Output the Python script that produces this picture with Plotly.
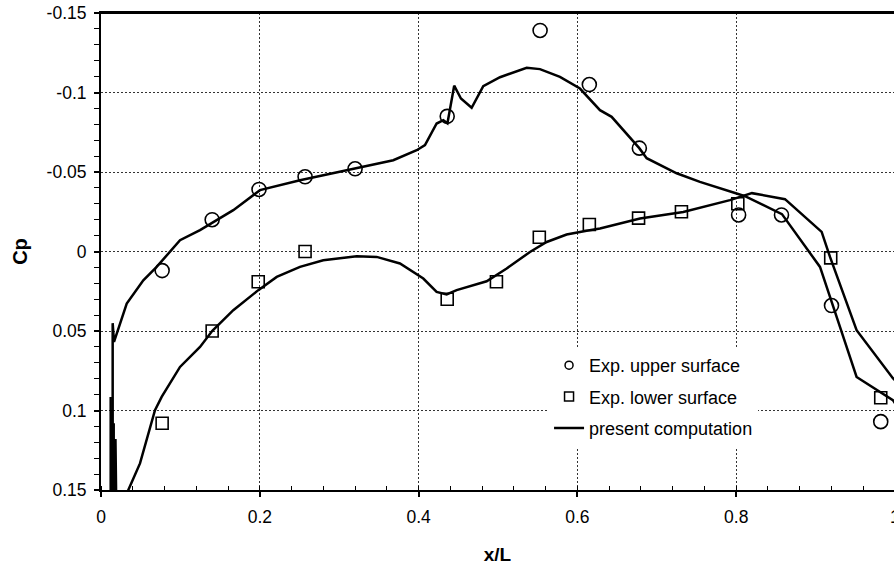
import plotly.graph_objects as go

# ---------------- data ----------------
x_upper_exp = [0.077, 0.140, 0.199, 0.257, 0.320, 0.436, 0.553, 0.615, 0.678, 0.803, 0.857, 0.920, 0.982]
cp_upper_exp = [0.012, -0.020, -0.039, -0.047, -0.052, -0.085, -0.139, -0.105, -0.065, -0.023, -0.023, 0.034, 0.107]

x_lower_exp = [0.077, 0.140, 0.198, 0.257, 0.436, 0.498, 0.552, 0.615, 0.677, 0.731, 0.802, 0.919, 0.982]
cp_lower_exp = [0.108, 0.050, 0.019, 0.000, 0.030, 0.019, -0.009, -0.017, -0.021, -0.025, -0.030, 0.004, 0.092]

x_upper_cmp = [0.0147, 0.0147, 0.0164, 0.0324, 0.0533, 0.0701, 0.0995, 0.1247, 0.1666, 0.2002,
               0.2506, 0.3177, 0.3681, 0.3976, 0.4080, 0.4227, 0.4311, 0.4363, 0.4448, 0.4533,
               0.4668, 0.4814, 0.5025, 0.5361, 0.5528, 0.5780, 0.6032, 0.6284, 0.6431, 0.6779,
               0.6872, 0.7250, 0.7543, 0.8005, 0.8110, 0.8576, 0.9055, 0.9181, 0.9516, 0.9973, 1.0]
cp_upper_cmp = [0.600, 0.0451, 0.0569, 0.0327, 0.0181, 0.0097, -0.0071, -0.0134, -0.0260, -0.0386,
                -0.0448, -0.0522, -0.0574, -0.0637, -0.0669, -0.0805, -0.0826, -0.0807, -0.1043, -0.0962,
                -0.0904, -0.1040, -0.1096, -0.1156, -0.1147, -0.1098, -0.1025, -0.0889, -0.0847, -0.0650,
                -0.0587, -0.0492, -0.0438, -0.0365, -0.0348, -0.0235, 0.0097, 0.0286, 0.0789, 0.0935, 0.0955]

x_lower_cmp = [0.0122, 0.0122, 0.0133, 0.0138, 0.0160, 0.0165, 0.0182, 0.0188, 0.0300,
               0.0344, 0.0491, 0.0680, 0.0764, 0.0995,
               0.1247, 0.1402, 0.1666, 0.1981, 0.2213, 0.2506, 0.2799, 0.3220, 0.3472, 0.3765,
               0.4059, 0.4227, 0.4353, 0.4479, 0.4688, 0.4857, 0.5109, 0.5402, 0.5613, 0.5864,
               0.6116, 0.6284, 0.6788, 0.7333, 0.7921, 0.8198, 0.8614, 0.9076, 0.9181, 0.9516,
               0.9973, 1.0]
cp_lower_cmp = [0.0915, 0.600, 0.100, 0.600, 0.108, 0.600, 0.118, 0.600, 0.600,
                0.1500, 0.1333, 0.0998, 0.0914, 0.0726,
                0.0600, 0.0499, 0.0369, 0.0243, 0.0160, 0.0097, 0.0055, 0.0030, 0.0034, 0.0075,
                0.0170, 0.0254, 0.0270, 0.0243, 0.0212, 0.0187, 0.0107, 0.0003, -0.0060, -0.0107,
                -0.0130, -0.0145, -0.0208, -0.0249, -0.0323, -0.0367, -0.0329, -0.0123, 0.0034, 0.0495,
                0.0797, 0.0810]

x_tickvals = [0, 0.2, 0.4, 0.6, 0.8]
x_ticktext = ["0", "0.2", "0.4", "0.6", "0.8"]
y_tickvals = [-0.15, -0.1, -0.05, 0, 0.05, 0.1, 0.15]
y_ticktext = ["-0.15", "-0.1", "-0.05", "0", "0.05", "0.1", "0.15"]

FONT = "Liberation Sans, Arial, sans-serif"

fig = go.Figure()

# computed lines
fig.add_trace(go.Scatter(x=x_upper_cmp, y=cp_upper_cmp, mode="lines",
                         line=dict(color="black", width=2.5), showlegend=False))
fig.add_trace(go.Scatter(x=x_lower_cmp, y=cp_lower_cmp, mode="lines",
                         line=dict(color="black", width=2.5), showlegend=False))
# experimental markers
fig.add_trace(go.Scatter(x=x_upper_exp, y=cp_upper_exp, mode="markers",
                         marker=dict(symbol="circle-open", size=14, color="black",
                                     line=dict(width=1.6, color="black")),
                         showlegend=False))
fig.add_trace(go.Scatter(x=x_lower_exp, y=cp_lower_exp, mode="markers",
                         marker=dict(symbol="square-open", size=12, color="black",
                                     line=dict(width=1.6, color="black")),
                         showlegend=False))

# legend entries
fig.add_trace(go.Scatter(x=[None], y=[None], mode="markers", name="Exp. upper surface",
                         legendgroup="a",
                         marker=dict(symbol="circle-open", size=8, color="black",
                                     line=dict(width=1.5, color="black"))))
fig.add_trace(go.Scatter(x=[None], y=[None], mode="markers", name="Exp. lower surface",
                         legendgroup="b",
                         marker=dict(symbol="square-open", size=9, color="black",
                                     line=dict(width=1.5, color="black"))))
fig.add_trace(go.Scatter(x=[None], y=[None], mode="lines", name="present computation",
                         legendgroup="c",
                         line=dict(color="black", width=2.5)))

grid = dict(showgrid=True, gridcolor="#333333", gridwidth=1, griddash="2px,2px")

fig.update_layout(
    width=894, height=565,
    margin=dict(l=101, r=0, t=13, b=75),
    paper_bgcolor="white", plot_bgcolor="white",
    font=dict(family=FONT, size=17.5, color="black"),
    xaxis=dict(range=[0, 0.9987], tickvals=x_tickvals, ticktext=x_ticktext,
               automargin=False,
               showline=True, linecolor="black", linewidth=2, mirror=True,
               ticks="outside", ticklen=5, tickwidth=1.5, tickcolor="black",
               ticklabelstandoff=5,
               minor=dict(dtick=0.04, tick0=0, ticks="inside", ticklen=4,
                          tickcolor="black", tickwidth=1.2, showgrid=False),
               zeroline=False,
               tickfont=dict(family=FONT, size=17.5, color="black"),
               title=dict(text="<b>x/L</b>", font=dict(family=FONT, size=19, color="black"),
                          standoff=22),
               **grid),
    yaxis=dict(range=[0.15, -0.15], tickvals=y_tickvals, ticktext=y_ticktext,
               automargin=False, ticklabeloverflow="allow",
               showline=True, linecolor="black", linewidth=2, mirror=False,
               ticks="outside", ticklen=5, tickwidth=1.5, tickcolor="black",
               ticklabelstandoff=4,
               minor=dict(dtick=0.01, tick0=0, ticks="outside", ticklen=5,
                          tickcolor="black", tickwidth=1.2, showgrid=False),
               zeroline=False,
               tickfont=dict(family=FONT, size=17.5, color="black"),
               title=dict(text="<b>Cp</b>", font=dict(family=FONT, size=20, color="black"),
                          standoff=14),
               **grid),
    legend=dict(x=0.565, y=0.2998, xanchor="left", yanchor="top",
                bgcolor="white", borderwidth=0, tracegroupgap=5,
                traceorder="grouped",
                font=dict(family=FONT, size=18, color="black")),
    shapes=[dict(type="line", xref="paper", yref="paper", x0=0, x1=1.01, y0=1, y1=1,
                 line=dict(color="black", width=2), layer="above")],
    annotations=[dict(text="1", xref="paper", yref="paper", x=1.0 / 0.9987, y=-0.056,
                      xanchor="center", yanchor="middle", showarrow=False,
                      font=dict(family=FONT, size=17.5, color="black"))],
)

fig.write_html("out.html",
               config={"displayModeBar": False},
               post_script="document.body.style.margin='0';document.body.style.overflow='hidden';")
